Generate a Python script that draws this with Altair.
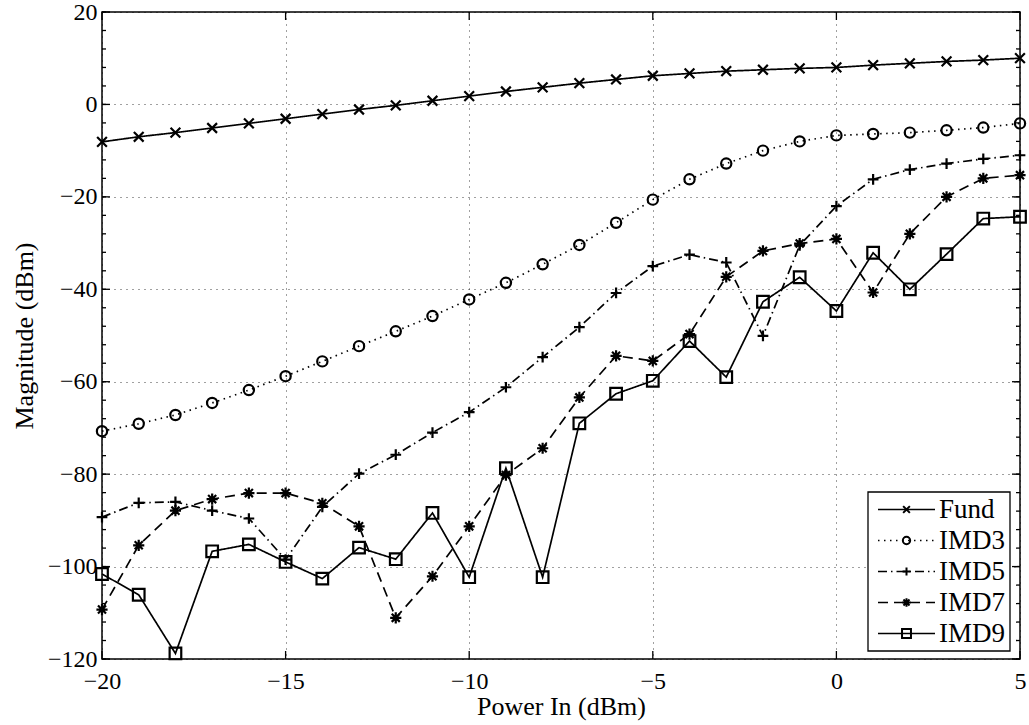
import altair as alt
import pandas as pd

# ---------------- data ----------------
x_vals = list(range(-20, 6))
series_names = ["Fund", "IMD3", "IMD5", "IMD7", "IMD9"]

fund = [-8.1, -7.0, -6.1, -5.1, -4.1, -3.1, -2.1, -1.1, -0.2, 0.8, 1.8, 2.8, 3.7,
        4.6, 5.4, 6.2, 6.7, 7.2, 7.5, 7.8, 8.0, 8.5, 8.9, 9.3, 9.6, 10.0]
imd3 = [-70.7, -69.1, -67.2, -64.6, -61.8, -58.8, -55.6, -52.3, -49.1, -45.8, -42.2, -38.6, -34.6,
        -30.4, -25.6, -20.6, -16.2, -12.8, -10.0, -8.0, -6.7, -6.4, -6.1, -5.6, -5.0, -4.1]
imd5 = [-89.3, -86.2, -86.0, -87.9, -89.6, -98.5, -87.1, -79.9, -75.8, -71.0, -66.6, -61.2, -54.7,
        -48.2, -40.8, -35.0, -32.5, -34.2, -50.1, -30.5, -22.0, -16.2, -14.1, -12.8, -11.8, -11.0]
imd7 = [-109.3, -95.4, -87.9, -85.4, -84.1, -84.1, -86.3, -91.3, -111.1, -102.1, -91.3, -80.2, -74.4,
        -63.4, -54.4, -55.5, -49.7, -37.3, -31.7, -30.1, -29.1, -40.7, -28.0, -20.0, -16.0, -15.3]
imd9 = [-101.6, -106.1, -118.8, -96.7, -95.2, -99.0, -102.6, -95.9, -98.4, -88.4, -102.3, -78.7, -102.3,
        -69.0, -62.6, -59.8, -51.2, -59.0, -42.7, -37.4, -44.7, -32.1, -40.0, -32.4, -24.7, -24.3]

x_ticks = [-20, -15, -10, -5, 0, 5]
y_ticks = [-120, -100, -80, -60, -40, -20, 0, 20]
y_minor_ticks = list(range(-120, 21, 4))

# ---------------- styling ----------------
FONT = "Liberation Serif"
W, H = 918, 647
X_DOM = [-20, 5]
Y_DOM = [-120, 20]

shapes = [
    "M-1,-1L1,1M-1,1L1,-1",                       # x
    "circle",                                      # o
    "M-1,0L1,0M0,-1L0,1",                          # +
    "M-1,0L1,0M0,-1L0,1M-0.72,-0.72L0.72,0.72M-0.72,0.72L0.72,-0.72",  # *
    "square",                                      # square
]
sizes = [95, 135, 170, 130, 105]
dashes = [[1, 0], [1.5, 4.5], [9, 4, 1.5, 4], [10, 6], [1, 0]]

rows = []
for name, vals in zip(series_names, [fund, imd3, imd5, imd7, imd9]):
    for xv, v in zip(x_vals, vals):
        rows.append({"x": xv, "y": v, "series": name})
df = pd.DataFrame(rows)

shape_scale = alt.Scale(domain=series_names, range=shapes)
size_scale = alt.Scale(domain=series_names, range=sizes)
dash_scale = alt.Scale(domain=series_names, range=dashes)

x_scale = alt.Scale(domain=X_DOM, nice=False, zero=False)
y_scale = alt.Scale(domain=Y_DOM, nice=False, zero=False)

axis_font = dict(labelFont=FONT, titleFont=FONT, labelFontSize=24, titleFontSize=26,
                 titleFontWeight="normal", labelColor="black", titleColor="black")

x_enc = alt.X("x:Q", scale=x_scale,
              axis=alt.Axis(values=x_ticks, title="Power In (dBm)", grid=True, ticks=False,
                            domain=False, labelPadding=10, titlePadding=0, labelFlush=False,
                            labelOverlap=False, labelBound=False, **axis_font))
y_enc = alt.Y("y:Q", scale=y_scale,
              axis=alt.Axis(values=y_ticks, title="Magnitude (dBm)", grid=True, ticks=False,
                            domain=False, labelPadding=5, titlePadding=10, labelFlush=False,
                            labelOverlap=False, labelBound=False, **axis_font))

base = alt.Chart(df)

lines = base.mark_line(color="black", strokeWidth=1.7).encode(
    x=x_enc, y=y_enc,
    detail="series:N",
    strokeDash=alt.StrokeDash("series:N", scale=dash_scale, legend=None),
)

points = base.mark_point(color="black", filled=False, strokeWidth=2.2, opacity=1).encode(
    x="x:Q", y="y:Q",
    shape=alt.Shape("series:N", scale=shape_scale, legend=None),
    size=alt.Size("series:N", scale=size_scale, legend=None),
)

# inward tick marks on the frame
ytick_df = pd.DataFrame({"y": y_minor_ticks})
ymaj_df = pd.DataFrame({"y": y_ticks})
xtick_df = pd.DataFrame({"x": x_ticks})

tick_style = dict(color="black", strokeWidth=1.3)
left_minor = alt.Chart(ytick_df).mark_rule(**tick_style).encode(
    y=alt.Y("y:Q", scale=y_scale), x=alt.value(0), x2=alt.value(4))
right_minor = alt.Chart(ytick_df).mark_rule(**tick_style).encode(
    y=alt.Y("y:Q", scale=y_scale), x=alt.value(W - 4), x2=alt.value(W))
left_major = alt.Chart(ymaj_df).mark_rule(**tick_style).encode(
    y=alt.Y("y:Q", scale=y_scale), x=alt.value(0), x2=alt.value(8))
right_major = alt.Chart(ymaj_df).mark_rule(**tick_style).encode(
    y=alt.Y("y:Q", scale=y_scale), x=alt.value(W - 8), x2=alt.value(W))
bottom_ticks = alt.Chart(xtick_df).mark_rule(**tick_style).encode(
    x=alt.X("x:Q", scale=x_scale), y=alt.value(H - 8), y2=alt.value(H))
top_ticks = alt.Chart(xtick_df).mark_rule(**tick_style).encode(
    x=alt.X("x:Q", scale=x_scale), y=alt.value(0), y2=alt.value(8))

data_layer = alt.layer(lines, points, left_minor, right_minor, left_major, right_major,
                       bottom_ticks, top_ticks)

# ---------------- legend ----------------
LEG_X0, LEG_X1 = 766, 908
LEG_Y0, LEG_Y1 = 480, 639
ROW0, ROW_STEP = 497.5, 31
leg_df = pd.DataFrame({"series": series_names, "row": list(range(len(series_names)))})

leg_box = alt.Chart(pd.DataFrame({"k": [0]})).mark_rect(
    fill="white", stroke="black", strokeWidth=1.3).encode(
    x=alt.value(LEG_X0), x2=alt.value(LEG_X1), y=alt.value(LEG_Y0), y2=alt.value(LEG_Y1))

leg_base = alt.Chart(leg_df).transform_calculate(ly=f"{ROW0} + datum.row * {ROW_STEP}")
ly = alt.Y("ly:Q", scale=None, axis=None)

leg_lines = leg_base.mark_rule(color="black", strokeWidth=1.7).encode(
    x=alt.value(LEG_X0 + 10), x2=alt.value(LEG_X0 + 67), y=ly,
    strokeDash=alt.StrokeDash("series:N", scale=dash_scale, legend=None))
leg_points = leg_base.mark_point(color="black", filled=False, strokeWidth=2, opacity=1).encode(
    x=alt.value(LEG_X0 + 38.5), y=ly,
    shape=alt.Shape("series:N", scale=shape_scale, legend=None),
    size=alt.Size("series:N", scale=alt.Scale(domain=series_names, range=[45, 80, 100, 75, 55]), legend=None))
leg_text = leg_base.mark_text(align="left", baseline="middle", font=FONT, fontSize=27,
                              color="black").encode(
    x=alt.value(LEG_X0 + 71), y=ly, text="series:N")

legend_layer = alt.layer(leg_box, leg_lines, leg_points, leg_text)

chart = alt.layer(data_layer, legend_layer).resolve_scale(
    y="independent", size="independent"
).properties(
    width=W, height=H,
    autosize=alt.AutoSizeParams(type="none"),
    padding={"left": 102, "top": 12, "right": 9, "bottom": 66},
).configure(font=FONT).configure_axis(
    labelFont=FONT, titleFont=FONT, labelFontSize=24, titleFontSize=26,
    titleFontWeight="normal", labelColor="black", titleColor="black",
    gridColor="black", gridDash=[1, 5], gridOpacity=0.75, gridWidth=1,
).configure_view(stroke="black", strokeWidth=1.5)

chart.save("out.html", embed_options={"renderer": "svg", "actions": False})
